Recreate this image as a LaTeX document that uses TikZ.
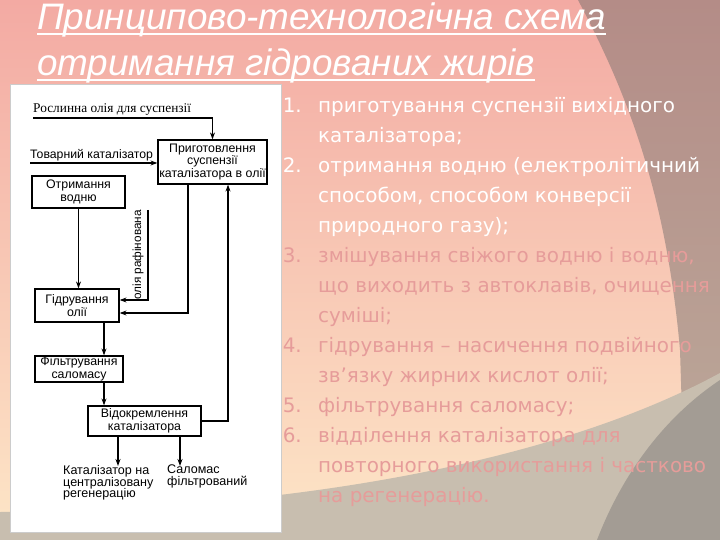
\documentclass[tikz,border=0pt]{standalone}
\usepackage{fontspec}
\setmainfont{Liberation Sans}
\newfontfamily\listfont{DejaVu Sans}
\newfontfamily\serifdiag{Liberation Serif}
\usetikzlibrary{arrows.meta, calc}

\definecolor{bgpink}{RGB}{243,170,163}
\definecolor{bgpeach}{RGB}{251,203,176}
\definecolor{bgcream}{RGB}{253,230,199}
\definecolor{mauve}{RGB}{180,140,135}
\definecolor{mauvelow}{RGB}{188,172,156}
\definecolor{sand}{RGB}{200,190,175}
\definecolor{stone}{RGB}{163,156,148}
\definecolor{itempink}{RGB}{230,156,154}

\newcommand\diagfont{\fontsize{12.4}{12.5}\selectfont}
\newcommand\listsize{\listfont\fontsize{20}{30}\selectfont}

\begin{document}
\begin{tikzpicture}[
    x=1bp, y=-1bp,
    >={Stealth[length=7bp, width=5bp]},
    box/.style={rectangle, draw, line width=1.2bp, fill=white, align=center, inner sep=0pt, font=\diagfont},
    stream/.style={inner sep=0pt, align=left, font=\diagfont},
    line/.style={->, line width=1.2bp},
    heading/.style={inner sep=0pt, anchor=base west, text=white, font=\fontsize{37}{46}\selectfont\itshape},
    uline/.style={white, line width=1.8bp},
    itemnum/.style={anchor=base east, inner sep=0pt, font=\listsize},
    itemtext/.style={anchor=north west, inner sep=0pt, align=left, font=\listsize}
]
\useasboundingbox (0,0) rectangle (720,540);

% background
\shade[top color=bgpink, middle color=bgpeach, bottom color=bgcream] (0,0) rectangle (720,540);
\shade[top color=mauve, bottom color=mauvelow] (578,0) .. controls (620,80) and (665,180) .. (680,350) -- (686,540) -- (720,540) -- (720,0) -- cycle;
\fill[sand] (0,512) .. controls (300,510) and (560,460) .. (720,373) -- (720,540) -- (0,540) -- cycle;
\fill[stone] (597,540) .. controls (620,480) and (660,420) .. (720,380) -- (720,540) -- cycle;

% title
\node[heading] (title1) at (37,30) {Принципово-технологічна схема};
\node[heading] (title2) at (37,76) {отримання гідрованих жирів};
\draw[uline] ($(title1.base west)+(0,4)$) -- ($(title1.base east)+(0,4)$);
\draw[uline] ($(title2.base west)+(0,4)$) -- ($(title2.base east)+(0,4)$);

% scheme
\filldraw[fill=white, draw=black!20] (10,84) rectangle (281,532);

\node[box, minimum width=109bp, minimum height=44bp] (prep) at (212.5,162) {Приготовлення\\суспензії\\каталізатора в олії};
\node[box, minimum width=93bp, minimum height=32bp] (hydrogen) at (78.5,192) {Отримання\\водню};
\node[box, minimum width=84bp, minimum height=33bp] (hydro) at (77,305.5) {Гідрування\\олії};
\node[box, minimum width=88bp, minimum height=26bp] (filter) at (79,369) {Фільтрування\\саломасу};
\node[box, minimum width=113bp, minimum height=30bp] (sep) at (144.5,421) {Відокремлення\\каталізатора};

\node[stream, anchor=south west, inner ysep=2bp, font=\serifdiag\fontsize{13.4}{15}\selectfont] (oil) at (33,118) {Рослинна олія для суспензії};
\node[stream, anchor=south west, inner ysep=2bp, font=\fontsize{12.3}{14}\selectfont] (catalyst) at (30,163) {Товарний каталізатор};
\node[stream, rotate=90, font=\fontsize{11.8}{13}\selectfont] (refined) at (138,255) {олія рафінована};
\node[stream, anchor=north west, font=\fontsize{12.6}{11.8}\selectfont] (catout) at (63,465) {Каталізатор на\\централізовану\\регенерацію};
\node[stream, anchor=north west, font=\fontsize{12.6}{11.8}\selectfont] (fatout) at (167,465) {Саломас\\фільтрований};

\coordinate (refin) at (148,210);
\coordinate (catend) at (118,466);
\coordinate (fatend) at (180,466);

\draw[line] (oil.south west) -| (prep.north);
\draw[line] (catalyst.south west) -- (catalyst.south west -| prep.west);
\draw[line] (hydrogen.south) -- (hydrogen.south |- hydro.north);
\draw[line] (refin) |- ($(hydro.east)+(0,-5.5)$);
\draw[line] ($(prep.south)+(-24.5,0)$) |- ($(hydro.east)+(0,7.5)$);
\draw[line] ($(hydro.south)+(27,0)$) coordinate (down) -- (down |- filter.north);
\draw[line] (down |- filter.south) -- (down |- sep.north);
\draw[line] (sep.east) -| ($(prep.south)+(15.5,0)$);
\draw[line] (sep.south -| catend) -- (catend);
\draw[line] (sep.south -| fatend) -- (fatend);

% list
\node[itemnum, text=white] (n1) at (302,112.5) {1.};
\node[itemtext, text=white] (i1) at (318,91.5) {\strut приготування суспензії вихідного\\каталізатора;};
\node[itemnum, text=white] (n2) at (302,172.5) {2.};
\node[itemtext, text=white] (i2) at (318,151.5) {\strut отримання водню (електролітичний\\способом, способом конверсії\\природного газу);};
\node[itemnum, text=itempink] (n3) at (302,262.5) {3.};
\node[itemtext, text=itempink] (i3) at (318,241.5) {\strut змішування свіжого водню і водню,\\що виходить з автоклавів, очищення\\суміші;};
\node[itemnum, text=itempink] (n4) at (302,352.5) {4.};
\node[itemtext, text=itempink] (i4) at (318,331.5) {\strut гідрування – насичення подвійного\\зв’язку жирних кислот олії;};
\node[itemnum, text=itempink] (n5) at (302,412.5) {5.};
\node[itemtext, text=itempink] (i5) at (318,391.5) {\strut фільтрування саломасу;};
\node[itemnum, text=itempink] (n6) at (302,442.5) {6.};
\node[itemtext, text=itempink] (i6) at (318,421.5) {\strut відділення каталізатора для\\повторного використання і частково\\на регенерацію.};
\end{tikzpicture}
\end{document}
